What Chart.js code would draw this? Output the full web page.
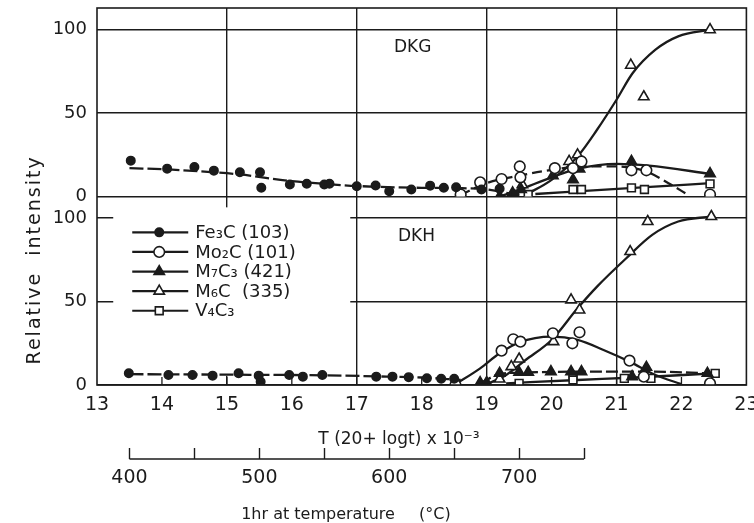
<!DOCTYPE html>
<html>
<head>
<meta charset="utf-8">
<script src="https://cdn.jsdelivr.net/npm/chart.js@4.4.1/dist/chart.umd.min.js"></script>
<style>
  html, body { margin: 0; padding: 0; background: #fff; overflow: hidden; }
</style>
</head>
<body>
<canvas id="carbideChart" width="754" height="523"></canvas>
<script>
const ink = "#1b1b1b";
const fontFamily = "'DejaVu Sans', 'Liberation Sans', sans-serif";

// x: T(20+log t)x10^-3, y: relative intensity.
const dkgFe3C = [[13.52, 21.5], [14.08, 16.7], [14.5, 17.7], [14.8, 15.5], [15.2, 14.5], [15.51, 14.5], [15.53, 5.2], [15.97, 7.2], [16.23, 7.6], [16.5, 7.2], [16.58, 7.6], [17.0, 6.1], [17.29, 6.6], [17.5, 3.2], [17.84, 4.2], [18.13, 6.5], [18.34, 5.2], [18.53, 5.5], [18.92, 4.2], [19.2, 4.6], [19.43, 1.2]];
const dkgMo2C = [[18.6, 1.2], [18.9, 8.5], [19.23, 10.5], [19.51, 18], [19.52, 11.5], [20.05, 17], [20.33, 17], [20.46, 21], [21.23, 15.7], [21.46, 15.7], [22.44, 1.2]];
const dkgM7C3 = [[19.2, 0], [19.4, 2.2], [19.53, 4.2], [20.02, 12.5], [20.33, 10], [20.43, 16.5], [21.23, 21], [22.44, 13.7]];
const dkgM6C = [[19.55, 7], [20.27, 21], [20.4, 25], [21.22, 78.7], [21.42, 59.8], [22.44, 100]];
const dkgV4C3 = [[19.64, 1.2], [20.33, 4.2], [20.46, 4.2], [21.23, 5.2], [21.43, 4.2], [22.44, 7.6]];

const dkhFe3C = [[13.49, 7], [14.1, 6], [14.47, 6], [14.78, 5.6], [15.18, 7], [15.49, 5.6], [15.52, 2], [15.96, 6], [16.17, 5], [16.47, 6], [17.3, 5], [17.55, 5], [17.8, 4.7], [18.08, 4], [18.3, 3.8], [18.5, 3.8]];
const dkhMo2C = [[18.52, 0], [19.23, 20.6], [19.41, 27.4], [19.52, 26], [20.02, 31], [20.32, 25], [20.43, 31.6], [21.2, 14.6], [21.42, 5], [22.44, 1]];
const dkhM7C3 = [[18.9, 1.4], [19.0, 1.4], [19.2, 7], [19.5, 7.6], [19.64, 7.6], [19.99, 8], [20.3, 8], [20.46, 8], [21.24, 5], [21.46, 10.6], [22.4, 7]];
const dkhM6C = [[19.2, 3.6], [19.38, 11], [19.5, 15.6], [20.03, 26], [20.3, 51], [20.43, 45], [21.21, 80], [21.48, 98], [22.46, 101]];
const dkhV4C3 = [[19.5, 1], [20.33, 5], [20.33, 3], [21.12, 4], [21.53, 4], [22.52, 7]];

// hand-drawn trend curves
const dkgFe3CCurve = [[13.5, 17], [14.1, 16.2], [14.8, 14.5], [15.2, 13.2], [16.0, 9.2], [16.5, 7.6], [17.0, 6.3], [18.0, 5.2], [18.6, 5], [19.0, 4.2], [19.45, 1]];
const dkgMo2CCurve = [[18.6, 1], [19.0, 8], [19.5, 12.5], [20.0, 16], [20.5, 18], [21.0, 18], [21.46, 15], [21.8, 8], [22.1, 1]];
const dkgM7C3Curve = [[19.2, 0], [19.5, 4], [20.0, 11.5], [20.4, 16.5], [21.0, 19.5], [21.5, 18.5], [22.45, 13.5]];
const dkgM6CCurve = [[19.6, 1], [20.0, 10], [20.4, 24], [20.7, 40], [21.0, 58], [21.25, 74], [21.6, 88], [21.95, 96], [22.45, 100]];
const dkgV4C3Curve = [[19.75, 1.5], [21.2, 5], [22.45, 8]];

const dkhFe3CCurve = [[13.5, 6.5], [15.0, 6.2], [16.5, 5.8], [17.5, 5], [18.0, 4.5], [18.6, 3]];
const dkhMo2CCurve = [[18.5, 0], [18.9, 10], [19.2, 19], [19.5, 25.5], [20.0, 29], [20.4, 27], [20.8, 21], [21.2, 14], [21.6, 6], [22.0, 0.5]];
const dkhM7C3Curve = [[18.9, 1], [19.2, 6.5], [19.6, 7.5], [20.5, 8], [21.5, 8], [22.45, 7]];
const dkhM6CCurve = [[19.0, 0.5], [19.3, 6], [19.6, 15], [20.0, 27], [20.4, 46], [20.7, 59], [21.15, 76], [21.55, 90], [21.95, 98], [22.45, 101]];
const dkhV4C3Curve = [[19.3, 1], [20.4, 3], [21.3, 4.5], [22.5, 7]];

const xMajorGrid = [15, 17, 19, 21];
const tempTicks = [400, 450, 500, 550, 600, 650, 700, 750];
const tempLabels = [400, 500, 600, 700];

const legendLabels = ["Fe₃C (103)", "Mo₂C (101)", "M₇C₃ (421)", "M₆C  (335)", "V₄C₃"];
const markerKinds = ["dot", "ring", "tri", "opentri", "box"];

const markerStyles = {
    dot: { pointStyle: "circle", pointRadius: 4.2, pointBackgroundColor: ink },
    ring: { pointStyle: "circle", pointRadius: 5.3, pointBackgroundColor: "#fff" },
    tri: { pointStyle: "triangle", pointRadius: 6, pointBackgroundColor: ink },
    opentri: { pointStyle: "triangle", pointRadius: 6, pointBackgroundColor: "#fff" },
    box: { pointStyle: "rect", pointRadius: 5.5, pointBackgroundColor: "#fff" },
};

Chart.defaults.font.family = fontFamily;
Chart.defaults.color = ink;

const toXY = arr => arr.map(([x, y]) => ({ x, y }));

function pointSet(data, axis, kind) {
    return {
        data: toXY(data),
        yAxisID: axis,
        showLine: false,
        pointBorderColor: ink,
        pointBorderWidth: 1.6,
        order: 1,
        ...markerStyles[kind],
    };
}

function curveSet(data, axis, dash = []) {
    return {
        data: toXY(data),
        yAxisID: axis,
        showLine: true,
        pointRadius: 0,
        borderColor: ink,
        borderWidth: 2.3,
        borderDash: dash,
        cubicInterpolationMode: "monotone",
        order: 2,
    };
}

const datasets = [
    pointSet(dkgFe3C, "yTop", "dot"),
    pointSet(dkgMo2C, "yTop", "ring"),
    pointSet(dkgM7C3, "yTop", "tri"),
    pointSet(dkgM6C, "yTop", "opentri"),
    pointSet(dkgV4C3, "yTop", "box"),
    pointSet(dkhFe3C, "yBot", "dot"),
    pointSet(dkhMo2C, "yBot", "ring"),
    pointSet(dkhM7C3, "yBot", "tri"),
    pointSet(dkhM6C, "yBot", "opentri"),
    pointSet(dkhV4C3, "yBot", "box"),
    curveSet(dkgFe3CCurve, "yTop", [14, 4]),
    curveSet(dkgMo2CCurve, "yTop", [10, 5]),
    curveSet(dkgM7C3Curve, "yTop"),
    curveSet(dkgM6CCurve, "yTop"),
    curveSet(dkgV4C3Curve, "yTop"),
    curveSet(dkhFe3CCurve, "yBot", [14, 4]),
    curveSet(dkhMo2CCurve, "yBot"),
    curveSet(dkhM7C3Curve, "yBot", [12, 4]),
    curveSet(dkhM6CCurve, "yBot"),
    curveSet(dkhV4C3Curve, "yBot"),
];

function drawMarker(ctx, kind, cx, cy) {
    const st = markerStyles[kind];
    const r = st.pointRadius;
    ctx.beginPath();
    if (st.pointStyle === "circle") {
        ctx.arc(cx, cy, r, 0, Math.PI * 2);
    } else if (st.pointStyle === "triangle") {
        for (let k = 0; k < 3; k++) {
            const a = k * 2 * Math.PI / 3;
            const px = cx + Math.sin(a) * r, py = cy - Math.cos(a) * r;
            k === 0 ? ctx.moveTo(px, py) : ctx.lineTo(px, py);
        }
        ctx.closePath();
    } else {
        const s = r * Math.SQRT1_2;
        ctx.rect(cx - s, cy - s, 2 * s, 2 * s);
    }
    ctx.fillStyle = st.pointBackgroundColor;
    ctx.fill();
    ctx.lineWidth = 1.6;
    ctx.strokeStyle = ink;
    ctx.stroke();
}

const figureDecor = {
    id: "figureDecor",
    beforeDatasetsDraw(chart) {
        const { ctx } = chart;
        const x = chart.scales.x;
        const yBot = chart.scales.yBot;
        // legend sits on a white patch that hides the grid behind it
        const boxL = x.getPixelForValue(13.25), boxR = x.getPixelForValue(16.9);
        const boxT = yBot.getPixelForValue(106.5), boxB = yBot.getPixelForValue(5.5);
        ctx.save();
        ctx.fillStyle = "#fff";
        ctx.fillRect(boxL, boxT, boxR - boxL, boxB - boxT);
        ctx.font = `18px ${fontFamily}`;
        ctx.textBaseline = "middle";
        legendLabels.forEach((label, i) => {
            const rowY = boxT + 25 + i * 19.6;
            ctx.beginPath();
            ctx.moveTo(boxL + 19, rowY);
            ctx.lineTo(boxL + 75, rowY);
            ctx.lineWidth = 2.2;
            ctx.strokeStyle = ink;
            ctx.stroke();
            drawMarker(ctx, markerKinds[i], boxL + 46, rowY);
            ctx.fillStyle = ink;
            ctx.fillText(label, boxL + 82, rowY + 1);
        });
        ctx.restore();
    },
    afterDatasetsDraw(chart) {
        const { ctx, chartArea: a } = chart;
        const x = chart.scales.x;
        ctx.save();
        ctx.strokeStyle = ink;
        ctx.lineWidth = 1.6;
        ctx.strokeRect(a.left, a.top, a.right - a.left, a.bottom - a.top);
        ctx.lineWidth = 1.3;
        for (let v = 14; v <= 22; v++) {
            const px = x.getPixelForValue(v);
            ctx.beginPath();
            ctx.moveTo(px, a.bottom);
            ctx.lineTo(px, a.bottom - 8);
            ctx.stroke();
        }
        ctx.restore();
    },
    afterDraw(chart) {
        const { ctx } = chart;
        const x = chart.scales.x;
        const xT = chart.scales.xT;
        const yTop = chart.scales.yTop;
        const yBot = chart.scales.yBot;
        ctx.save();
        ctx.fillStyle = ink;
        ctx.strokeStyle = ink;

        // temperature scale baseline
        const lineY = xT.top + 11;
        ctx.lineWidth = 1.5;
        ctx.beginPath();
        ctx.moveTo(xT.getPixelForValue(400), lineY);
        ctx.lineTo(xT.getPixelForValue(750), lineY);
        ctx.stroke();

        ctx.textAlign = "center";
        ctx.textBaseline = "middle";
        ctx.font = `17px ${fontFamily}`;
        ctx.fillText("DKG", x.getPixelForValue(17.86), yTop.getPixelForValue(89));
        ctx.fillText("DKH", x.getPixelForValue(17.92), yBot.getPixelForValue(89));

        ctx.fillText("T (20+ logt) x 10⁻³", x.getPixelForValue(17.65), xT.top - 8);

        ctx.font = `16px ${fontFamily}`;
        ctx.textAlign = "left";
        ctx.fillText("1hr at temperature", xT.getPixelForValue(486), xT.bottom - 8);
        ctx.fillText("(°C)", xT.getPixelForValue(623), xT.bottom - 8);

        ctx.translate(35, yBot.getPixelForValue(75));
        ctx.rotate(-Math.PI / 2);
        ctx.textAlign = "center";
        ctx.font = `19px ${fontFamily}`;
        ctx.letterSpacing = "2px";
        ctx.fillText("Relative  intensity", 0, 0);
        ctx.restore();
    },
};

function panelAxis() {
    return {
        type: "linear",
        position: "left",
        stack: "panels",
        stackWeight: 1,
        min: 0,
        max: 113,
        ticks: { stepSize: 50, includeBounds: false, padding: 0, font: { size: 18 }, color: ink },
        grid: { color: ink, lineWidth: 1.4, tickLength: 10, tickColor: "rgba(0,0,0,0)" },
        border: { display: false },
        afterFit: s => { s.width = 97; s.paddingTop = 0; s.paddingBottom = 0; },
    };
}

new Chart(document.getElementById("carbideChart"), {
    type: "scatter",
    data: { datasets },
    options: {
        responsive: false,
        animation: false,
        layout: { padding: { top: 8, left: 0, right: 0, bottom: 0 } },
        plugins: {
            legend: { display: false },
            tooltip: { enabled: false },
        },
        scales: {
            x: {
                type: "linear",
                position: "bottom",
                min: 13,
                max: 23,
                ticks: { stepSize: 1, padding: 9, font: { size: 19 }, color: ink, maxRotation: 0 },
                grid: {
                    drawTicks: false,
                    lineWidth: 1.4,
                    color: c => xMajorGrid.includes(c.tick.value) ? ink : "rgba(0,0,0,0)",
                },
                border: { display: false },
                afterFit: s => { s.height = 63; s.paddingLeft = 0; s.paddingRight = 7; },
            },
            xT: {
                type: "linear",
                position: "bottom",
                min: 375,
                max: 875,
                afterBuildTicks: s => { s.ticks = tempTicks.map(v => ({ value: v })); },
                ticks: {
                    autoSkip: false,
                    maxRotation: 0,
                    padding: 8,
                    font: { size: 19 },
                    color: ink,
                    callback: v => tempLabels.includes(v) ? String(v) : "",
                },
                grid: { drawOnChartArea: false, drawTicks: true, tickLength: 11, tickColor: ink, tickWidth: 1.4, color: ink },
                border: { display: false },
                afterFit: s => { s.height = 75; s.paddingLeft = 0; s.paddingRight = 0; },
            },
            yBot: panelAxis(),
            yTop: panelAxis(),
        },
    },
    plugins: [figureDecor],
});
</script>
</body>
</html>
